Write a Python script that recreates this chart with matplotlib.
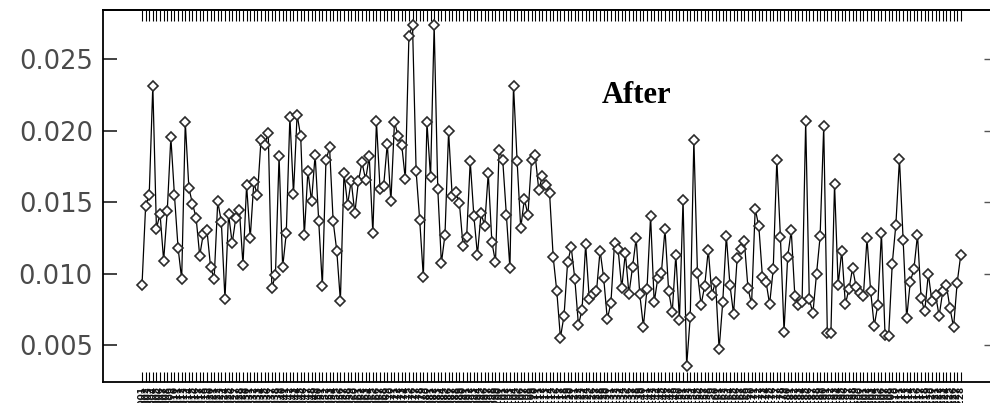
import matplotlib
matplotlib.use("Agg")
import matplotlib.pyplot as plt
import numpy as np

# measured series, in sample order
values = [
    0.00920, 0.01471, 0.01552, 0.02315, 0.01315, 0.01420, 0.01093, 0.01438, 0.01953, 0.01548,
    0.01182, 0.00963, 0.02061, 0.01599, 0.01490, 0.01392, 0.01126, 0.01280, 0.01308, 0.01051,
    0.00963, 0.01506, 0.01364, 0.00823, 0.01420, 0.01214, 0.01389, 0.01448, 0.01063, 0.01618,
    0.01249, 0.01639, 0.01548, 0.01937, 0.01902, 0.01984, 0.00900, 0.00993, 0.01821, 0.01047,
    0.01284, 0.02096, 0.01559, 0.02112, 0.01960, 0.01268, 0.01720,
    0.01506, 0.01832, 0.01366, 0.00916, 0.01793, 0.01883, 0.01366, 0.01161, 0.00811, 0.01704,
    0.01483, 0.01650, 0.01424, 0.01646, 0.01779, 0.01657, 0.01821, 0.01284, 0.02065, 0.01592,
    0.01615, 0.01909, 0.01506, 0.02061, 0.01965, 0.01902, 0.01662, 0.02660,
    0.02739, 0.01716, 0.01373, 0.00977, 0.02058, 0.01676, 0.02739, 0.01594, 0.01075, 0.01273,
    0.01995, 0.01541, 0.01569, 0.01494, 0.01196, 0.01256, 0.01786, 0.01406, 0.01133, 0.01424,
    0.01336, 0.01704, 0.01221, 0.01082, 0.01867, 0.01797, 0.01413, 0.01040,
    0.02315, 0.01786, 0.01319, 0.01522, 0.01413, 0.01797, 0.01828, 0.01587, 0.01681, 0.01620,
    0.01562, 0.01117, 0.00877, 0.00555, 0.00706, 0.01082, 0.01186, 0.00963, 0.00643, 0.00748,
    0.01207, 0.00823, 0.00858, 0.00877, 0.01163, 0.00970, 0.00683, 0.00795,
    0.01214, 0.01172, 0.00900, 0.01145, 0.00860, 0.01047, 0.01249, 0.00858, 0.00632, 0.00893,
    0.01401, 0.00800, 0.00970, 0.01009, 0.01312, 0.00883, 0.00730, 0.01133, 0.00678, 0.01517,
    0.00357, 0.00702, 0.01937, 0.01005, 0.00783, 0.00916, 0.01168, 0.00853,
    0.00946, 0.00473, 0.00800, 0.01266, 0.00923, 0.00720, 0.01110, 0.01172, 0.01226, 0.00900,
    0.00788, 0.01452, 0.01336, 0.00981, 0.00946, 0.00788, 0.01033, 0.01797, 0.01254, 0.00597,
    0.01117, 0.01303, 0.00842, 0.00783, 0.00800, 0.02065, 0.00823, 0.00725,
    0.00998, 0.01261, 0.02030, 0.00590, 0.00590, 0.01627, 0.00923, 0.01163, 0.00788, 0.00893,
    0.01040, 0.00907, 0.00865, 0.00846, 0.01249, 0.00883, 0.00636, 0.00783, 0.01284, 0.00573,
    0.00566, 0.01070, 0.01343, 0.01802, 0.01238, 0.00690, 0.00946,
    0.01033, 0.01273, 0.00830, 0.00737, 0.01000, 0.00807, 0.00853, 0.00706, 0.00877, 0.00923,
    0.00760, 0.00627, 0.00939, 0.01133,
]
sample_labels = [f"S{i:03d}" for i in range(1, len(values) + 1)]
y_ticks = [0.005, 0.010, 0.015, 0.020, 0.025]
y_tick_labels = ["0.005", "0.010", "0.015", "0.020", "0.025"]
panel_title = "After"

W, H = 990, 403
fig = plt.figure(figsize=(W / 100, H / 100), dpi=100)
# axes box in pixels: left 102.5, right 990, top 10, bottom 381.5
ax = fig.add_axes([102.5 / W, (H - 381.5) / H, (W - 102.5) / W, (381.5 - 10) / H])

x = np.arange(len(values))
ax.plot(x, values, color="black", lw=0.9, marker="D", ms=5.6,
        mfc="white", mec="#2a2a2a", mew=1.2)

ax.set_xlim(-10.95, len(values) - 1 + 8.1)
ax.set_ylim(0.00248, 0.02843)

ax.set_yticks(y_ticks)
ax.set_yticklabels(y_tick_labels, fontsize=18.5, color="#4a4a4a")
ax.tick_params(axis="y", direction="in", length=10, width=1.3, color="#333333", pad=7)

# crowded sample ids under the axis, packed into one dark band
ax.set_xticks(x)
ax.set_xticklabels(sample_labels, rotation=90, fontsize=6.5, color="#111111",
                   fontweight="bold")
ax.tick_params(axis="x", direction="in", length=7, width=0.8, pad=3)

# tick rows on the top and right edges, no labels
top = ax.secondary_xaxis("top")
top.set_xticks(x)
top.set_xticklabels([])
top.tick_params(direction="in", length=8, width=0.8)
top.spines["top"].set_linewidth(1.3)
right = ax.secondary_yaxis("right")
right.set_yticks(y_ticks)
right.set_yticklabels([])
right.tick_params(direction="in", length=4, width=1.0, color="#555555")
right.spines["right"].set_visible(False)

for s in ("left", "bottom", "top"):
    ax.spines[s].set_linewidth(1.3)
ax.spines["right"].set_visible(False)

fig.text(637 / W, 1 - 103.5 / H, panel_title, ha="center", va="baseline",
         fontsize=22, fontweight="bold", family="Liberation Serif")

fig.savefig("out.png", dpi=100)
